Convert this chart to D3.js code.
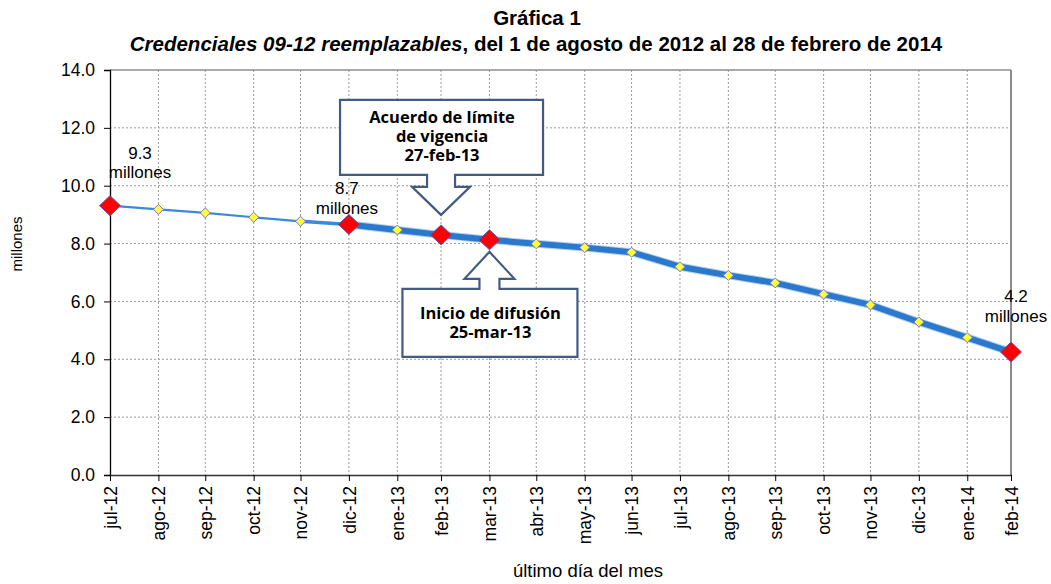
<!DOCTYPE html>
<html>
<head>
<meta charset="utf-8">
<script src="https://cdn.jsdelivr.net/npm/d3@7"></script>
<style>
  body { margin: 0; background: #fff; }
  svg { display: block; font-family: "Liberation Sans", Arial, sans-serif; }
</style>
</head>
<body>
<svg id="chart" width="1051" height="584"></svg>
<script>
// month labels and their closing dates (último día del mes)
const monthLabels = ["jul-12", "ago-12", "sep-12", "oct-12", "nov-12", "dic-12", "ene-13", "feb-13",
  "mar-13", "abr-13", "may-13", "jun-13", "jul-13", "ago-13", "sep-13", "oct-13", "nov-13", "dic-13",
  "ene-14", "feb-14"]
const monthDates = ["2012-07-31", "2012-08-31", "2012-09-30", "2012-10-31", "2012-11-30", "2012-12-31",
  "2013-01-31", "2013-02-28", "2013-03-31", "2013-04-30", "2013-05-31", "2013-06-30", "2013-07-31",
  "2013-08-31", "2013-09-30", "2013-10-31", "2013-11-30", "2013-12-31", "2014-01-31", "2014-02-28"]
// credenciales reemplazables, millones
const values = [9.31, 9.18, 9.06, 8.91, 8.77, 8.66, 8.47, 8.30, 8.13, 7.99, 7.86, 7.70, 7.20, 6.90,
  6.64, 6.25, 5.88, 5.29, 4.75, 4.25]
const yTicks = [0, 2, 4, 6, 8, 10, 12, 14]
const highlighted = ["jul-12", "dic-12", "feb-13", "mar-13", "feb-14"]
const valueLabels = [
  { month: "jul-12", text: "9.3" },
  { month: "dic-12", text: "8.7" },
  { month: "feb-14", text: "4.2" },
]
const callouts = [
  { month: "feb-13", dir: "down", lines: ["Acuerdo de límite", "de vigencia", "27-feb-13"] },
  { month: "mar-13", dir: "up", lines: ["Inicio de difusión", "25-mar-13"] },
]

const parse = d3.timeParse("%Y-%m-%d")
const data = monthLabels.map((m, i) => ({ month: m, date: parse(monthDates[i]), value: values[i] }))
const byMonth = new Map(data.map(d => [d.month, d]))

const svg = d3.select("#chart")
const plot = { left: 110, right: 1011, top: 70, bottom: 475 }

const x = d3.scaleTime()
  .domain(d3.extent(data, d => d.date))
  .range([plot.left, plot.right])
const y = d3.scaleLinear().domain([0, 14]).range([plot.bottom, plot.top])

// titles
svg.append("text")
  .attr("x", 537).attr("y", 25)
  .attr("text-anchor", "middle")
  .attr("font-size", 20.5).attr("font-weight", "bold")
  .text("Gráfica 1")
const sub = svg.append("text")
  .attr("x", 536).attr("y", 51)
  .attr("text-anchor", "middle")
  .attr("font-size", 20.5).attr("font-weight", "bold")
sub.append("tspan").attr("font-style", "italic").text("Credenciales 09-12 reemplazables")
sub.append("tspan").text(", del 1 de agosto de 2012 al 28 de febrero de 2014")

// grid
const grid = svg.append("g")
grid.selectAll(".hgrid")
  .data(yTicks.filter(t => t > 0 && t < 14))
  .join("line")
  .attr("x1", plot.left).attr("x2", plot.right)
  .attr("y1", d => y(d)).attr("y2", d => y(d))
  .attr("stroke", "#9a9a9a").attr("stroke-dasharray", "2,2")
grid.selectAll(".vgrid")
  .data(data.slice(1, -1))
  .join("line")
  .attr("x1", d => x(d.date)).attr("x2", d => x(d.date))
  .attr("y1", plot.top).attr("y2", plot.bottom)
  .attr("stroke", "#9a9a9a").attr("stroke-dasharray", "2,2")
// top + right frame
grid.append("line")
  .attr("x1", plot.left).attr("x2", plot.right)
  .attr("y1", y(14)).attr("y2", y(14))
  .attr("stroke", "#8c8c8c").attr("stroke-width", 1.3)
grid.append("line")
  .attr("x1", plot.right).attr("x2", plot.right)
  .attr("y1", plot.top).attr("y2", plot.bottom)
  .attr("stroke", "#8c8c8c").attr("stroke-width", 2)

// y axis
const yAxis = svg.append("g")
  .attr("transform", `translate(${plot.left},0)`)
  .call(d3.axisLeft(y).tickValues(yTicks).tickFormat(d3.format(".1f")).tickSize(6).tickPadding(9))
yAxis.select(".domain").attr("stroke", "#000").attr("stroke-width", 1.3)
yAxis.selectAll("text").attr("font-size", 17.5).attr("fill", "#000")
  .attr("font-family", "'Liberation Sans', Arial, sans-serif")

// x axis
const xAxis = svg.append("g")
  .attr("transform", `translate(0,${plot.bottom})`)
  .call(d3.axisBottom(x).tickValues(data.map(d => d.date))
    .tickFormat((d, i) => monthLabels[i]).tickSize(6).tickSizeOuter(0))
xAxis.select(".domain").attr("stroke", "#333").attr("stroke-width", 1.3)
xAxis.selectAll("text")
  .attr("font-size", 17.5).attr("fill", "#000")
  .attr("font-family", "'Liberation Sans', Arial, sans-serif")
  .attr("text-anchor", "end")
  .attr("dy", "0.35em")
  .attr("transform", "translate(0,4) rotate(-90)")
  .attr("x", -7).attr("y", 0)

// axis titles
svg.append("text")
  .attr("transform", "translate(22,244) rotate(-90)")
  .attr("text-anchor", "middle")
  .attr("font-size", 15)
  .text("millones")
svg.append("text")
  .attr("x", 588).attr("y", 577)
  .attr("text-anchor", "middle")
  .attr("font-size", 18.5)
  .text("último día del mes")

// line: thin before Dec-12, thick afterwards
const segments = d3.pairs(data).map((p, i) => ({ p, w: i < 4 ? 2.2 : i === 4 ? 3.5 : 6 }))
const lineGen = d3.line().x(d => x(d.date)).y(d => y(d.value))
const lines = svg.append("g").attr("fill", "none").attr("stroke-linecap", "round")
lines.selectAll(".halo")
  .data(segments.filter(s => s.w > 4))
  .join("path")
  .attr("d", s => lineGen(s.p))
  .attr("stroke", "#b3cfee").attr("stroke-width", s => s.w + 2)
lines.selectAll(".seg")
  .data(segments)
  .join("path")
  .attr("d", s => lineGen(s.p))
  .attr("stroke", s => s.w > 4 ? "#2a79cd" : "#3c89d8")
  .attr("stroke-width", s => s.w)

// markers
const diamond = (hw, hh) => `M0,${-hh}L${hw},0L0,${hh}L${-hw},0Z`
const marks = svg.append("g")
marks.selectAll(".small")
  .data(data.filter(d => !highlighted.includes(d.month)))
  .join("path")
  .attr("transform", d => `translate(${x(d.date)},${y(d.value)})`)
  .attr("d", diamond(5, 5))
  .attr("fill", "#ffff38").attr("stroke", "#7a78c8").attr("stroke-width", 1)
marks.selectAll(".big")
  .data(data.filter(d => highlighted.includes(d.month)))
  .join("path")
  .attr("transform", d => `translate(${x(d.date)},${y(d.value)})`)
  .attr("d", diamond(10.5, 10))
  .attr("fill", "#ff0000").attr("stroke", "#5a4fc0").attr("stroke-width", 1)

// value labels
const labelOffset = { "jul-12": [30, -47], "dic-12": [-2, -30], "feb-14": [5, -50] }
const vl = svg.append("g").attr("font-size", 17).attr("text-anchor", "middle")
valueLabels.forEach(l => {
  const d = byMonth.get(l.month)
  const [dx, dy] = labelOffset[l.month]
  const t = vl.append("text")
    .attr("x", x(d.date) + dx).attr("y", y(d.value) + dy)
  t.append("tspan").text(l.text)
  t.append("tspan").attr("x", x(d.date) + dx).attr("dy", 19.5).text("millones")
})

// callouts (arrow boxes)
const calloutPath = (tx, ty, dir) => {
  if (dir === "down") {
    const bx0 = tx - 101, bx1 = tx + 102, by0 = ty - 115, by1 = ty - 40, base = ty - 28
    return `M${bx0},${by0}H${bx1}V${by1}H${tx + 14}V${base}H${tx + 29}L${tx},${ty}` +
      `L${tx - 29},${base}H${tx - 14}V${by1}H${bx0}Z`
  }
  const bx0 = tx - 87, bx1 = tx + 88, by0 = ty + 37, by1 = ty + 105, base = ty + 27
  return `M${bx0},${by1}H${bx1}V${by0}H${tx + 10}V${base}H${tx + 25}L${tx},${ty}` +
    `L${tx - 25},${base}H${tx - 10}V${by0}H${bx0}Z`
}
const cg = svg.append("g")
callouts.forEach(c => {
  const d = byMonth.get(c.month)
  const tx = x(d.date)
  const ty = c.dir === "down" ? y(d.value) - 20 : y(d.value) + 12
  cg.append("path")
    .attr("d", calloutPath(tx, ty, c.dir))
    .attr("fill", "#fff").attr("stroke", "#435b82").attr("stroke-width", 2.2)
    .attr("stroke-linejoin", "miter")
  const y0 = c.dir === "down" ? ty - 92 : ty + 67
  const t = cg.append("text")
    .attr("text-anchor", "middle")
    .attr("font-family", "'Open Sans', Lato, sans-serif")
    .attr("font-weight", "bold").attr("font-size", 16.5)
  c.lines.forEach((line, i) => {
    t.append("tspan").attr("x", tx + 1).attr("y", y0 + i * 19.3).text(line)
  })
})
</script>
</body>
</html>
